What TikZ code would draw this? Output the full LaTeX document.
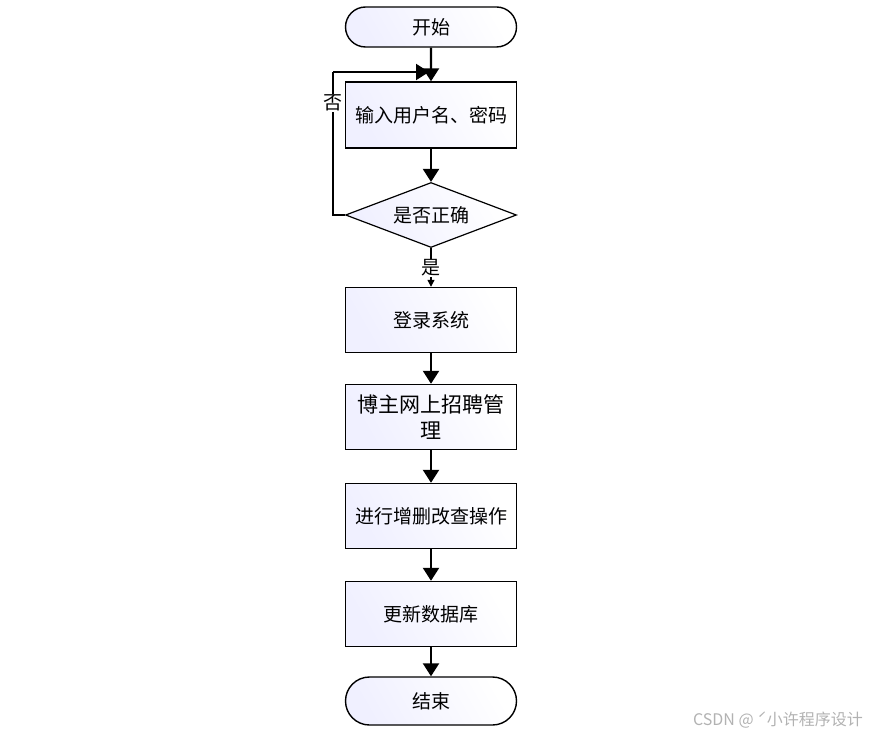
\documentclass[tikz,border=0pt]{standalone}
\usepackage{fontspec}
\setmainfont{Noto Sans CJK SC}
\newfontfamily\cjk{Noto Sans CJK SC}
\usetikzlibrary{arrows.meta,shapes.geometric,shapes.misc}
\tikzset{
  boxfill/.style={left color=blue!6!white, right color=white, shading angle=120},
  procbox/.style={draw=black, line width=1.4pt, boxfill, minimum width=171pt, minimum height=65pt, inner sep=0pt, font=\fontsize{19pt}{23pt}\selectfont, align=center},
  termbox/.style={draw=black, line width=1.4pt, boxfill, rounded rectangle, minimum width=171pt, minimum height=40pt, inner sep=0pt, font=\fontsize{19pt}{23pt}\selectfont},
  decbox/.style={draw=black, line width=1.2pt, boxfill, diamond, aspect=2.63, minimum width=171pt, minimum height=65pt, inner sep=0pt, font=\fontsize{19pt}{23pt}\selectfont},
  flow/.style={line width=2.2pt, -{Triangle[length=13pt,width=16pt]}},
  smallflow/.style={line width=1.2pt, -{Triangle[length=7pt,width=7pt]}},
  lab/.style={font=\fontsize{19pt}{23pt}\selectfont, fill=white, inner sep=1pt}
}
\begin{document}
\begin{tikzpicture}[x=1pt,y=-1pt]
\useasboundingbox (0,0) rectangle (872,735);
\node[termbox, minimum height=40pt] (start) at (431,27) {开始};
\node[procbox, minimum height=66pt] (input) at (431,115) {输入用户名、密码};
\node[decbox] (check) at (431,215) {是否正确};
\node[procbox] (login) at (431,320) {登录系统};
\node[procbox, font=\fontsize{21pt}{26pt}\selectfont] (manage) at (431,417) {博主网上招聘管\\理};
\node[procbox] (crud) at (431,516) {进行增删改查操作};
\node[procbox] (update) at (431,614) {更新数据库};
\node[termbox, minimum height=48pt] (end) at (431,701) {结束};
\coordinate (corner1) at (333,215);
\coordinate (corner2) at (333,72);
\coordinate (merge) at (429,72);
\draw[flow] (start) -- (input);
\draw[line width=2.2pt] (check.west) -- (corner1) -- (corner2);
\draw[flow] (corner2) -- (merge);
\node[lab] (no) at (333,103) {否};
\draw[flow] (input) -- (check);
\draw[smallflow] (check.south) -- (login.north);
\node[lab] (yes) at (431,268) {是};
\draw[flow] (login) -- (manage);
\draw[flow] (manage) -- (crud);
\draw[flow] (crud) -- (update);
\draw[flow] (update) -- (end);
\node[text=black!30, font=\fontsize{16pt}{18pt}\selectfont] (wm) at (778,720) {CSDN @ ˊ小许程序设计};
\end{tikzpicture}
\end{document}
